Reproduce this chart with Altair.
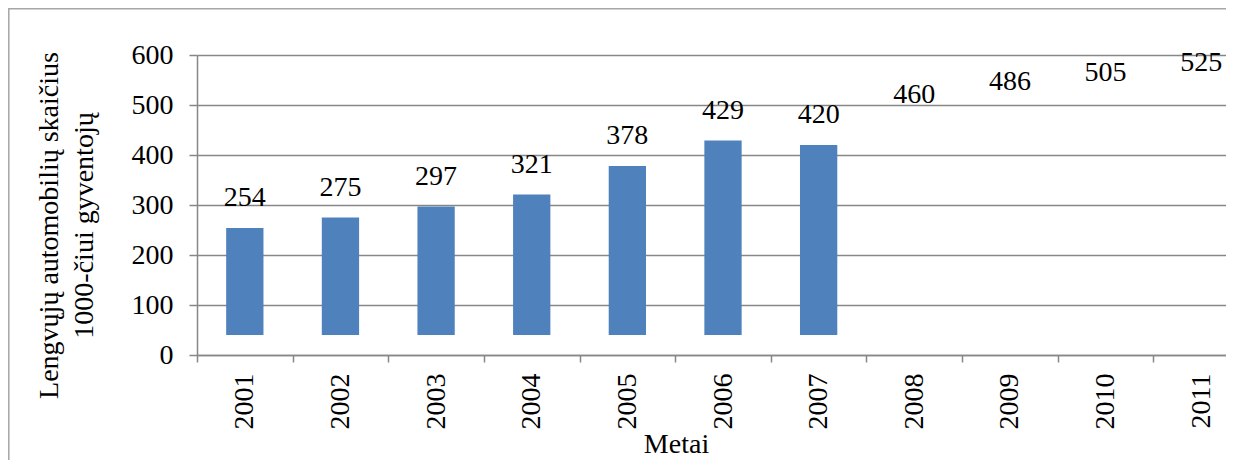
import altair as alt
import pandas as pd

years = ["2001", "2002", "2003", "2004", "2005", "2006", "2007", "2008", "2009", "2010", "2011"]
values = [254, 275, 297, 321, 378, 429, 420, 460, 486, 505, 525]
bar_years = ["2001", "2002", "2003", "2004", "2005", "2006", "2007"]
bar_base = 40
y_ticks = [0, 100, 200, 300, 400, 500, 600]

df = pd.DataFrame({"Metai": years, "value": values})
df["bar"] = df["Metai"].isin(bar_years)
df["base"] = bar_base

FONT = "Liberation Serif"
GRID = "#878787"

x = alt.X(
    "Metai:N",
    sort=years,
    scale=alt.Scale(range=[0, 1052], paddingInner=0, paddingOuter=0),
    axis=alt.Axis(
        title="Metai",
        labelAngle=-90,
        labelFont=FONT,
        labelFontSize=28,
        labelColor="black",
        labelPadding=11,
        tickBand="extent",
        tickSize=7,
        tickColor=GRID,
        tickWidth=1.5,
        domainColor=GRID,
        domainWidth=1.5,
        grid=False,
        titleFont=FONT,
        titleFontSize=28,
        titleFontWeight="normal",
        titleColor="black",
        titleX=479,
        titleY=97,
        titleAlign="center",
        titleBaseline="alphabetic",
    ),
)

y_scale = alt.Scale(domain=[0, 600], nice=False)

bars = alt.Chart(df).transform_filter("datum.bar").mark_bar(
    color="#4F81BD", width=alt.RelativeBandSize(0.39)
).encode(
    x=x,
    y=alt.Y(
        "value:Q",
        scale=y_scale,
        axis=alt.Axis(
            values=y_ticks,
            title=["Lengvųjų  automobilių skaičius", "1000-čiui gyventojų"],
            labelFont=FONT,
            labelFontSize=28,
            labelColor="black",
            labelPadding=16,
            tickSize=8,
            tickColor=GRID,
            tickWidth=1.5,
            domainColor=GRID,
            domainWidth=1.5,
            grid=True,
            gridColor=GRID,
            gridWidth=1.5,
            titleFont=FONT,
            titleFontSize=28,
            titleFontWeight="normal",
            titleColor="black",
            titleAngle=-90,
            titleAlign="center",
            titleBaseline="middle",
            titleLineHeight=35,
            titleX=-148,
            titleY=170,
        ),
    ),
    y2="base:Q",
)

labels = alt.Chart(df).mark_text(
    font=FONT, fontSize=28, color="black", baseline="bottom", dy=-16
).encode(
    x=alt.X("Metai:N", sort=years),
    y=alt.Y("value:Q", scale=y_scale),
    text="value:Q",
)

frame_df = pd.DataFrame({"k": [0]})
frame = alt.Chart(frame_df).mark_rect(
    fill=None, fillOpacity=0, stroke="#a6a6a6", strokeWidth=1.5
).encode(
    x=alt.value(-188.2), x2=alt.value(1100), y=alt.value(-46.2), y2=alt.value(500)
)

chart = alt.layer(frame, bars, labels).properties(
    width=1029,
    height=300,
    padding={"left": 189, "top": 47, "right": 0, "bottom": 105},
    autosize=alt.AutoSizeParams(type="none"),
).configure_view(stroke=None)

chart.save("out.html", embed_options={"renderer": "svg", "actions": False})
